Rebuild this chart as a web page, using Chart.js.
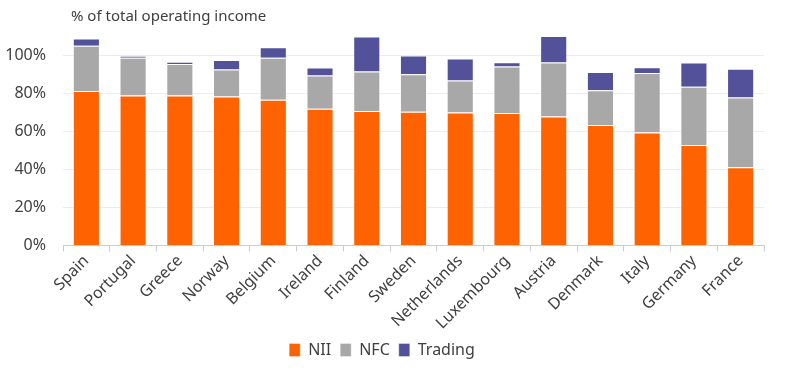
<!DOCTYPE html>
<html>
<head>
<meta charset="utf-8">
<script src="https://cdn.jsdelivr.net/npm/chart.js@4"></script>
<style>
  html, body { margin: 0; padding: 0; background: #fff; }
  #wrap { width: 800px; height: 368px; }
</style>
</head>
<body>
<div id="wrap"><canvas id="chart"></canvas></div>
<script>
var countries = ["Spain", "Portugal", "Greece", "Norway", "Belgium", "Ireland", "Finland", "Sweden", "Netherlands", "Luxembourg", "Austria", "Denmark", "Italy", "Germany", "France"];
var nii = [81.1, 78.8, 78.8, 78.3, 76.6, 71.8, 70.6, 70.3, 69.9, 69.6, 67.8, 63.3, 59.3, 52.8, 41.1];
var nfc = [23.8, 19.8, 16.5, 14.2, 22.0, 17.5, 20.8, 19.7, 16.8, 24.4, 28.3, 18.2, 31.3, 30.6, 36.7];
var trading = [3.8, 1.0, 1.2, 4.9, 5.6, 4.2, 18.4, 9.8, 11.5, 2.3, 14.0, 9.6, 3.1, 12.7, 15.0];
var yTicks = [0, 20, 40, 60, 80, 100];
var chartTitle = "% of total operating income";

var FONT = "'Noto Sans', sans-serif";
var TEXT = "#404040";

// title drawn above the plot, lined up with the chart area
var titlePlugin = {
    id: 'topTitle',
    afterDraw: function (chart) {
        var ctx = chart.ctx;
        ctx.save();
        ctx.font = "15px " + FONT;
        ctx.fillStyle = TEXT;
        ctx.textBaseline = "middle";
        ctx.textAlign = "left";
        ctx.fillText(chartTitle, chart.chartArea.left + 8, 17);
        ctx.restore();
    }
};

function makeSet(label, data, color) {
    return {
        label: label,
        data: data,
        backgroundColor: color,
        borderColor: "rgba(255,255,255,0.35)",
        borderWidth: 1,
        categoryPercentage: 1,
        barPercentage: 0.58
    };
}

new Chart(document.getElementById('chart').getContext('2d'), {
    type: 'bar',
    data: {
        labels: countries,
        datasets: [
            makeSet("NII", nii, "#FF6200"),
            makeSet("NFC", nfc, "#A8A8A8"),
            makeSet("Trading", trading, "#525199")
        ]
    },
    options: {
        responsive: true,
        maintainAspectRatio: false,
        animation: false,
        layout: { padding: { top: 26, right: 36, left: 0, bottom: 0 } },
        plugins: {
            tooltip: { enabled: false },
            legend: {
                position: 'bottom',
                labels: {
                    boxWidth: 11,
                    boxHeight: 13,
                    padding: 9,
                    color: TEXT,
                    font: { family: FONT, size: 16 }
                }
            }
        },
        scales: {
            x: {
                stacked: true,
                // rotated first label would otherwise push the plot to the right
                afterFit: function (scale) {
                    scale.paddingLeft = 0;
                    scale.paddingRight = 0;
                },
                grid: { drawOnChartArea: false, drawTicks: true, tickLength: 6, color: "#cccccc" },
                border: { color: "#cccccc" },
                ticks: {
                    minRotation: 45,
                    maxRotation: 45,
                    padding: 0,
                    color: TEXT,
                    font: { family: FONT, size: 16 }
                }
            },
            y: {
                stacked: true,
                min: 0,
                max: 115,
                afterBuildTicks: function (axis) {
                    axis.ticks = yTicks.map(function (v) { return { value: v }; });
                },
                afterFit: function (scale) {
                    scale.width = 63;
                },
                grid: { color: "#ececec", drawTicks: false },
                border: { display: false },
                ticks: {
                    padding: 17,
                    color: TEXT,
                    font: { family: FONT, size: 16 },
                    callback: function (v) { return v + "%"; }
                }
            }
        }
    },
    plugins: [titlePlugin]
});
</script>
</body>
</html>
